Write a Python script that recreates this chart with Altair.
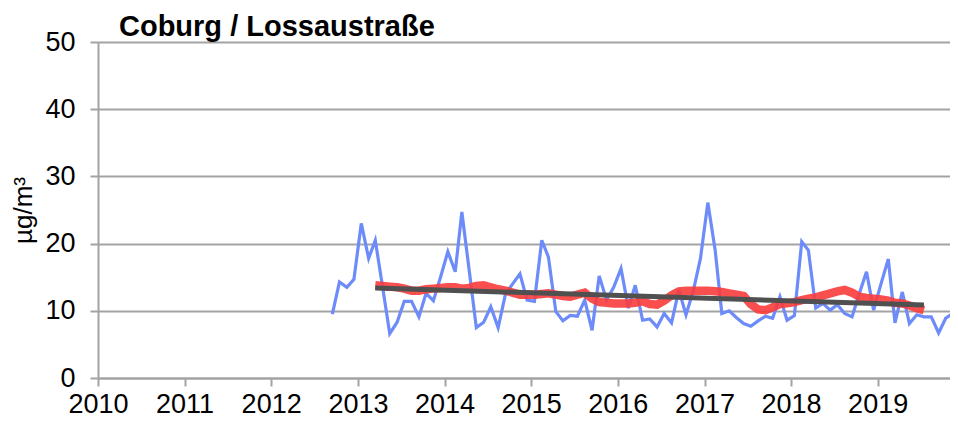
import altair as alt
import pandas as pd

chart_title = "Coburg / Lossaustraße"
y_title = "µg/m³"

# Monthly values, Sep 2012 .. Dec 2019 (µg/m³)
monthly_values = [
    9.5, 14.3, 13.5, 14.7,                                  # 2012 Sep-Dec
    23.0, 17.8, 20.5, 13.5, 6.6, 8.3, 11.4, 11.4, 9.1, 12.6, 11.5, 15.0,   # 2013
    18.8, 15.8, 24.7, 16.0, 7.5, 8.3, 10.6, 7.5, 12.5, 14.0, 15.5, 11.6,   # 2014
    11.4, 20.5, 18.0, 9.9, 8.5, 9.3, 9.2, 11.6, 7.1, 15.2, 11.6, 13.5,     # 2015
    16.3, 10.4, 13.8, 8.6, 8.8, 7.6, 9.6, 8.2, 13.1, 9.4, 13.0, 17.8,      # 2016
    26.1, 19.0, 9.6, 10.0, 9.0, 8.1, 7.7, 8.5, 9.2, 8.9, 12.1, 8.6,        # 2017
    9.3, 20.3, 19.0, 10.4, 11.1, 10.1, 10.9, 9.6, 9.1, 12.5, 15.8, 10.1,   # 2018
    14.0, 17.7, 8.2, 12.8, 8.1, 9.4, 9.1, 9.1, 6.7, 8.9, 9.6, 11.1,        # 2019
]
start_year, start_month = 2012, 9

# 12-month running mean, Mar 2013 .. Jul 2019
running_mean = [
    13.8, 13.7, 13.6, 13.5, 13.3, 13.0, 13.0, 13.2, 13.3, 13.4,            # 2013 Mar-Dec
    13.5, 13.5, 13.3, 13.4, 13.7, 13.8, 13.5, 13.2, 13.0, 12.7, 12.4, 12.4, # 2014
    12.4, 12.5, 12.6, 12.4, 12.2, 12.1, 12.4, 12.7, 11.8, 11.3, 11.2, 11.1, # 2015
    11.1, 11.1, 11.2, 11.4, 11.0, 10.9, 11.5, 12.3, 12.9, 13.0, 13.0, 13.0, # 2016
    13.0, 12.9, 12.8, 12.6, 12.4, 12.2, 11.0, 10.2, 10.1, 10.5, 11.0, 11.1, # 2017
    11.3, 11.6, 11.8, 12.0, 12.3, 12.6, 12.9, 13.1, 12.7, 12.1, 11.9, 11.8, # 2018
    11.7, 11.5, 11.2, 11.1, 10.8, 10.4, 10.1,                               # 2019 Jan-Jul
]
mean_start_year, mean_start_month = 2013, 3

# Linear trend: endpoints
trend_dates = ["2013-03-15", "2019-07-15"]
trend_values = [13.4, 10.85]

year_ticks = list(range(2010, 2020))
y_ticks = [0, 10, 20, 30, 40, 50]


def month_dates(y, m, n):
    out = []
    for i in range(n):
        mm = m - 1 + i
        out.append(f"{y + mm // 12:04d}-{mm % 12 + 1:02d}-15")
    return out


df_month = pd.DataFrame({"date": month_dates(start_year, start_month, len(monthly_values)),
                         "value": monthly_values})
df_mean = pd.DataFrame({"date": month_dates(mean_start_year, mean_start_month, len(running_mean)),
                        "value": running_mean})
df_trend = pd.DataFrame({"date": trend_dates, "value": trend_values})
df_title = pd.DataFrame({"t": [chart_title]})

FONT = "Liberation Sans"
GRID = "#a3a3a3"

x_enc = alt.X(
    "date:T",
    scale=alt.Scale(
        type="utc",
        domain=[alt.DateTime(year=2010, month=1, date=1, utc=True),
                alt.DateTime(year=2019, month=11, date=2, utc=True)],
    ),
    axis=alt.Axis(
        values=[alt.DateTime(year=y, month=1, date=1, utc=True) for y in year_ticks],
        format="%Y",
        title=None,
        grid=False,
        domain=True,
        domainColor=GRID,
        domainWidth=2,
        ticks=True,
        tickColor=GRID,
        tickWidth=2,
        tickSize=8,
        labelFont=FONT,
        labelFontSize=27,
        labelColor="#000000",
        labelPadding=5,
        labelFlush=False,
        labelOverlap=False,
    ),
)

y_enc = alt.Y(
    "value:Q",
    scale=alt.Scale(domain=[0, 50], nice=False),
    axis=alt.Axis(
        values=y_ticks,
        title=y_title,
        titleFont=FONT,
        titleFontSize=26,
        titleFontWeight="normal",
        titleColor="#000000",
        titleAngle=-90,
        titleX=-67,
        titleY=168,
        titleAlign="center",
        titleBaseline="alphabetic",
        grid=True,
        gridColor=GRID,
        gridWidth=2,
        domain=True,
        domainColor=GRID,
        domainWidth=2,
        ticks=True,
        tickColor=GRID,
        tickWidth=2,
        tickSize=8,
        labelFont=FONT,
        labelFontSize=27,
        labelColor="#000000",
        labelPadding=15,
    ),
)

blue = alt.Chart(df_month).mark_line(color="#6d8cfa", strokeWidth=3.2, clip=True).encode(x=x_enc, y=y_enc)
red = alt.Chart(df_mean).mark_line(color="#fa3c3c", strokeWidth=8.5, opacity=0.9, clip=True).encode(x=x_enc, y=y_enc)
trend = alt.Chart(df_trend).mark_line(color="#505050", strokeWidth=5, clip=True).encode(x=x_enc, y=y_enc)
title_text = alt.Chart(df_title).mark_text(
    align="left", baseline="alphabetic", font=FONT, fontSize=29, fontWeight="bold", color="#000000"
).encode(x=alt.value(21), y=alt.value(-6), text="t:N")

chart = (
    alt.layer(blue, red, trend, title_text)
    .properties(
        width=852,
        height=336,
        autosize=alt.AutoSizeParams(type="none"),
        padding={"left": 90, "top": 34, "right": 0, "bottom": 40},
    )
    .configure_view(stroke=None)
    .configure(background="#ffffff")
)

chart.save("out.html", embed_options={"renderer": "svg", "actions": False})
